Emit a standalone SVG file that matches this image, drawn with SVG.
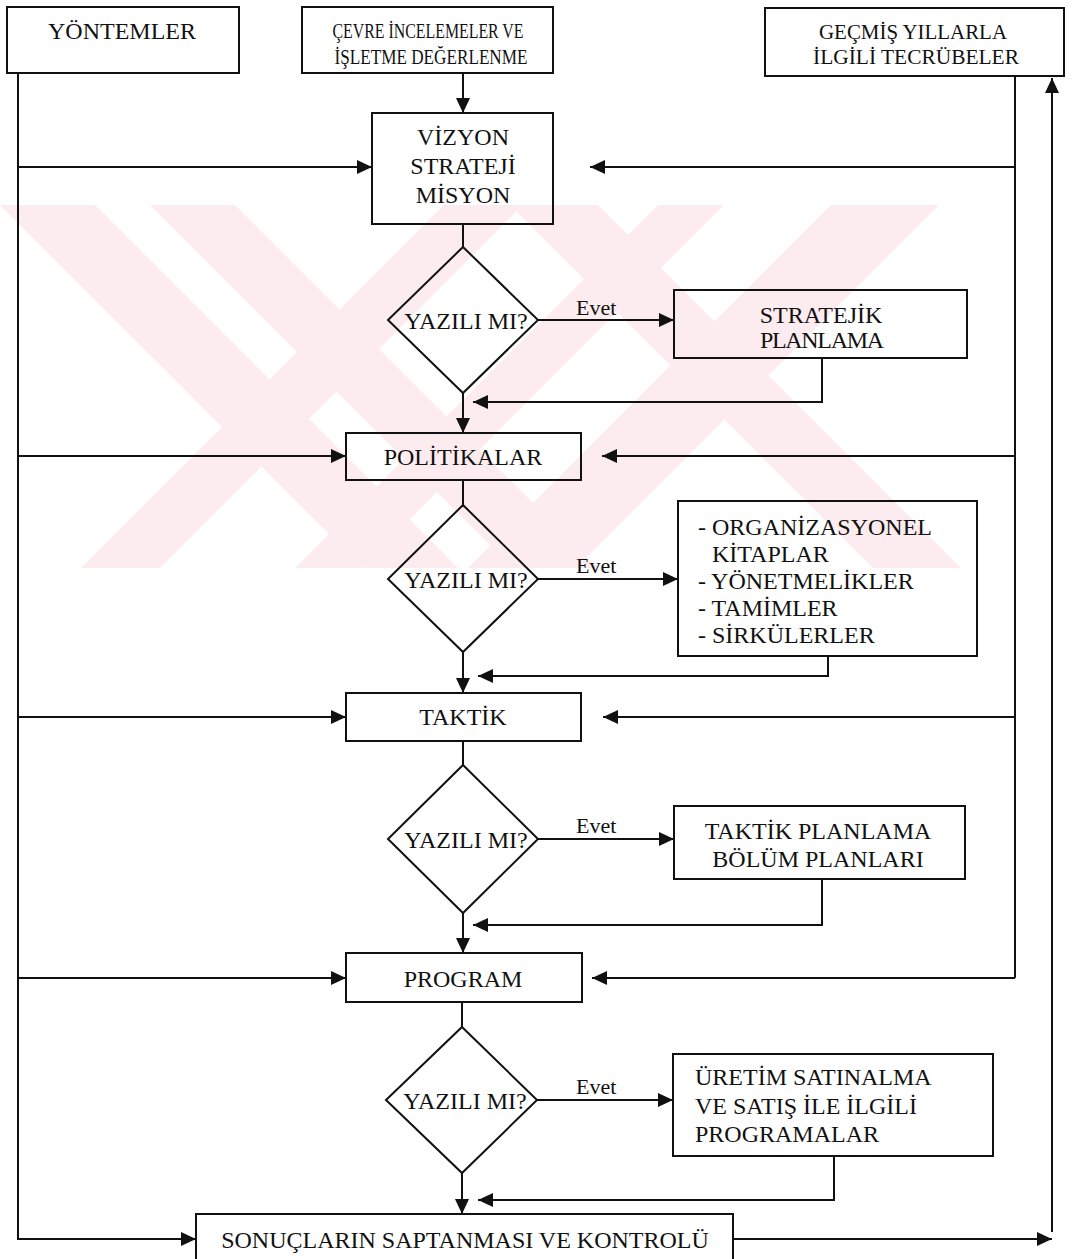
<svg xmlns="http://www.w3.org/2000/svg" width="1073" height="1259" viewBox="0 0 1073 1259">
  <defs>
    <marker id="ah" viewBox="0 0 15 14" refX="15" refY="7" markerWidth="15" markerHeight="14" markerUnits="userSpaceOnUse" orient="auto">
      <path d="M0,0 L15,7 L0,14 z" fill="#111"/>
    </marker>
    <clipPath id="band">
      <rect x="0" y="205" width="1073" height="363"/>
    </clipPath>
    <style>
      .box { fill: none; stroke: #111; stroke-width: 2; }
      .dia { fill: none; stroke: #111; stroke-width: 2; }
      .ln { fill: none; stroke: #111; stroke-width: 2; }
      .arr { fill: none; stroke: #111; stroke-width: 2; marker-end: url(#ah); }
      .wm { fill: #fdecef; }
      text { font-family: "Liberation Serif", "Times New Roman", serif; fill: #111; }
      .t { font-size: 24px; text-anchor: middle; }
      .tl { font-size: 24px; text-anchor: start; }
      .ts { font-size: 21px; text-anchor: middle; }
      .ev { font-size: 22px; }
    </style>
  </defs>
  <rect width="1073" height="1259" fill="#fff"/>

  <!-- pale background emblem: crossing diagonal bands -->
  <g id="emblem" clip-path="url(#band)">
    <path class="wm" d="M0,205 H95 L458,568 H363 Z
                         M150,205 H235 L598,568 H513 Z
                         M510,205 H598 L961,568 H873 Z
                         M444,205 H523 L160,568 H81 Z
                         M658,205 H724 L361,568 H295 Z
                         M831,205 H939 L576,568 H468 Z"/>
  </g>

  <!-- connectors -->
  <g id="connectors">
    <!-- left trunk from YÖNTEMLER -->
    <path class="ln" d="M18,73 V1240"/>
    <path class="arr" d="M18,167 H372"/>
    <path class="arr" d="M18,456 H346"/>
    <path class="arr" d="M18,717 H346"/>
    <path class="arr" d="M18,978 H346"/>
    <path class="arr" d="M18,1239 H196"/>
    <!-- ÇEVRE to VİZYON -->
    <path class="arr" d="M463,73 V113"/>
    <!-- right trunk from GEÇMİŞ -->
    <path class="ln" d="M1015,76 V978"/>
    <path class="arr" d="M1015,167 H590"/>
    <path class="arr" d="M1015,456 H602"/>
    <path class="arr" d="M1015,717 H603"/>
    <path class="arr" d="M1015,978 H592"/>
    <!-- results back up to GEÇMİŞ -->
    <path class="arr" d="M733,1239 H1052"/>
    <path class="arr" d="M1052,1232 V78"/>
    <!-- level 1 -->
    <path class="ln" d="M463,224 V247"/>
    <path class="arr" d="M538,320 H674"/>
    <path class="arr" d="M822,358 V402 H473"/>
    <path class="arr" d="M463,393 V433"/>
    <!-- level 2 -->
    <path class="ln" d="M463,480 V505"/>
    <path class="arr" d="M538,579 H678"/>
    <path class="arr" d="M828,656 V676 H478"/>
    <path class="arr" d="M463,652 V693"/>
    <!-- level 3 -->
    <path class="ln" d="M463,741 V765"/>
    <path class="arr" d="M538,839 H674"/>
    <path class="arr" d="M822,879 V925 H473"/>
    <path class="arr" d="M463,913 V953"/>
    <!-- level 4 -->
    <path class="ln" d="M462,1002 V1027"/>
    <path class="arr" d="M537,1100 H673"/>
    <path class="arr" d="M834,1156 V1200 H478"/>
    <path class="arr" d="M462,1173 V1214"/>
  </g>

  <!-- top inputs -->
  <g id="yontemler">
    <rect class="box" x="7" y="7" width="232" height="66"/>
    <text class="t" x="122" y="39">YÖNTEMLER</text>
  </g>
  <g id="cevre">
    <rect class="box" x="302" y="7" width="251" height="66"/>
    <text class="ts" x="428" y="38" textLength="191" lengthAdjust="spacingAndGlyphs">ÇEVRE İNCELEMELER VE</text>
    <text class="ts" x="431" y="64" textLength="193" lengthAdjust="spacingAndGlyphs">İŞLETME DEĞERLENME</text>
  </g>
  <g id="gecmis">
    <rect class="box" x="765" y="8" width="299" height="68"/>
    <text class="ts" x="913" y="39" textLength="188" lengthAdjust="spacingAndGlyphs">GEÇMİŞ YILLARLA</text>
    <text class="ts" x="916" y="64" textLength="206" lengthAdjust="spacingAndGlyphs">İLGİLİ TECRÜBELER</text>
  </g>

  <!-- level 1 -->
  <g id="vizyon">
    <rect class="box" x="372" y="113" width="181" height="111"/>
    <text class="t" x="463" y="145">VİZYON</text>
    <text class="t" x="463" y="174">STRATEJİ</text>
    <text class="t" x="463" y="203">MİSYON</text>
  </g>
  <g id="karar1">
    <polygon class="dia" points="463,247 538,320 463,393 388,320"/>
    <text class="t" x="466" y="329" font-size="23">YAZILI MI?</text>
    <text class="ev" x="576" y="315">Evet</text>
  </g>
  <g id="stratejik">
    <rect class="box" x="674" y="290" width="293" height="68"/>
    <text class="t" x="821" y="323">STRATEJİK</text>
    <text class="t" x="822" y="348" font-size="17" textLength="124" lengthAdjust="spacing">PLANLAMA</text>
  </g>

  <!-- level 2 -->
  <g id="politikalar">
    <rect class="box" x="346" y="433" width="235" height="47"/>
    <text class="t" x="463" y="465">POLİTİKALAR</text>
  </g>
  <g id="karar2">
    <polygon class="dia" points="463,505 538,579 463,652 388,579"/>
    <text class="t" x="466" y="588" font-size="23">YAZILI MI?</text>
    <text class="ev" x="576" y="573">Evet</text>
  </g>
  <g id="belgeler">
    <rect class="box" x="678" y="501" width="299" height="155"/>
    <text class="tl" x="698" y="535">- ORGANİZASYONEL</text>
    <text class="tl" x="712" y="562">KİTAPLAR</text>
    <text class="tl" x="698" y="589">- YÖNETMELİKLER</text>
    <text class="tl" x="698" y="616">- TAMİMLER</text>
    <text class="tl" x="698" y="643">- SİRKÜLERLER</text>
  </g>

  <!-- level 3 -->
  <g id="taktik">
    <rect class="box" x="346" y="693" width="235" height="48"/>
    <text class="t" x="463" y="725">TAKTİK</text>
  </g>
  <g id="karar3">
    <polygon class="dia" points="463,765 538,839 463,913 388,839"/>
    <text class="t" x="466" y="848" font-size="23">YAZILI MI?</text>
    <text class="ev" x="576" y="833">Evet</text>
  </g>
  <g id="taktik-planlama">
    <rect class="box" x="674" y="806" width="291" height="73"/>
    <text class="t" x="818" y="839">TAKTİK PLANLAMA</text>
    <text class="t" x="818" y="867">BÖLÜM PLANLARI</text>
  </g>

  <!-- level 4 -->
  <g id="program">
    <rect class="box" x="346" y="953" width="236" height="49"/>
    <text class="t" x="463" y="987">PROGRAM</text>
  </g>
  <g id="karar4">
    <polygon class="dia" points="462,1027 537,1100 462,1173 386,1100"/>
    <text class="t" x="465" y="1109" font-size="23">YAZILI MI?</text>
    <text class="ev" x="576" y="1094">Evet</text>
  </g>
  <g id="uretim">
    <rect class="box" x="673" y="1054" width="320" height="102"/>
    <text class="tl" x="695" y="1085">ÜRETİM SATINALMA</text>
    <text class="tl" x="695" y="1114">VE SATIŞ İLE İLGİLİ</text>
    <text class="tl" x="695" y="1142">PROGRAMALAR</text>
  </g>

  <!-- results -->
  <g id="sonuc">
    <rect class="box" x="196" y="1214" width="537" height="60"/>
    <text class="t" x="465" y="1248">SONUÇLARIN SAPTANMASI VE KONTROLÜ</text>
  </g>
</svg>
